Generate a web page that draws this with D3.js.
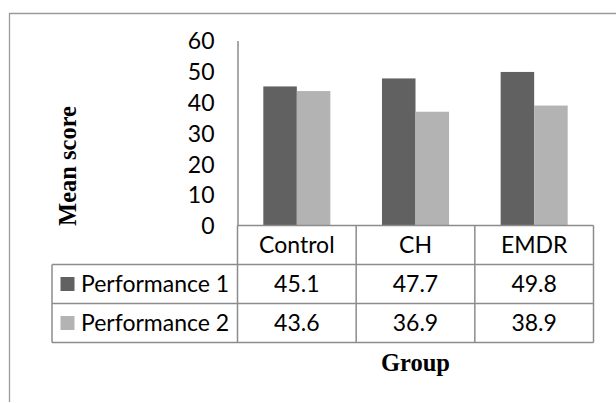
<!DOCTYPE html>
<html>
<head>
<meta charset="utf-8">
<script src="https://cdn.jsdelivr.net/npm/d3@7"></script>
<style>
  html, body { margin: 0; padding: 0; background: #ffffff; }
  svg { display: block; }
</style>
</head>
<body>
<svg id="chart" width="616" height="403"></svg>
<script>
// Mean scores by group for two performance measures
const groups = ["Control", "CH", "EMDR"];
const seriesNames = ["Performance 1", "Performance 2"];
const performance1 = [45.1, 47.7, 49.8];
const performance2 = [43.6, 36.9, 38.9];
const yTicks = [0, 10, 20, 30, 40, 50, 60];
const yTitle = "Mean score";
const xTitle = "Group";

const seriesValues = [performance1, performance2];
const colors = ["#616161", "#b3b3b3"];

const sansFont = "Lato, 'Open Sans', sans-serif";
const serifFont = "'Liberation Serif', 'Times New Roman', serif";

const svg = d3.select("#chart");

// Frame (top and left edges only)
svg.append("path")
  .attr("d", "M9.5,402 V13.5 H616")
  .attr("fill", "none")
  .attr("stroke", "#9a9a9a")
  .attr("stroke-width", 1.3);

// Scales
const plotLeft = 237.5, plotRight = 593.5;
const plotTop = 40.5, plotBottom = 225.5;

const x = d3.scaleBand().domain(groups).range([plotLeft, plotRight]).padding(0);
const xInner = d3.scaleBand().domain(d3.range(seriesNames.length))
  .range([0, x.bandwidth()]).paddingInner(0).paddingOuter(0.77);
const y = d3.scaleLinear().domain([0, 60]).range([plotBottom, plotTop]);

// Bars
const barData = [];
groups.forEach((g, gi) => {
  seriesValues.forEach((vals, si) => {
    barData.push({ group: g, s: si, v: vals[gi] });
  });
});

svg.append("g").selectAll("rect")
  .data(barData)
  .join("rect")
  .attr("x", d => x(d.group) + xInner(d.s))
  .attr("y", d => y(d.v))
  .attr("width", xInner.bandwidth())
  .attr("height", d => y(0) - y(d.v))
  .attr("fill", d => colors[d.s]);

// Y axis
const yAxis = d3.axisLeft(y).tickValues(yTicks).tickSize(0).tickPadding(23)
  .tickFormat(d3.format("d"));
const yg = svg.append("g").attr("transform", `translate(${plotLeft},0)`).call(yAxis);
yg.select(".domain").attr("stroke", "#8c8c8c").attr("stroke-width", 1.5);
yg.selectAll("text")
  .attr("font-family", sansFont)
  .attr("font-size", 23)
  .attr("fill", "#000")
  .attr("dy", "0.36em");

// Data table beneath the plot
const tableLeft = 52;
const rowH = 39;
const headerTop = plotBottom;
const tableBottom = headerTop + rowH * (1 + seriesNames.length);
const lineColor = "#8c8c8c";
const tbl = svg.append("g");

// horizontal lines
tbl.append("line")
  .attr("x1", plotLeft).attr("x2", plotRight)
  .attr("y1", headerTop).attr("y2", headerTop);
for (let r = 1; r <= seriesNames.length + 1; r++) {
  const yy = headerTop + r * rowH;
  tbl.append("line")
    .attr("x1", tableLeft).attr("x2", plotRight)
    .attr("y1", yy).attr("y2", yy);
}
// vertical lines
tbl.append("line")
  .attr("x1", tableLeft).attr("x2", tableLeft)
  .attr("y1", headerTop + rowH).attr("y2", tableBottom);
groups.forEach(g => {
  tbl.append("line")
    .attr("x1", x(g)).attr("x2", x(g))
    .attr("y1", headerTop).attr("y2", tableBottom);
});
tbl.append("line")
  .attr("x1", plotRight).attr("x2", plotRight)
  .attr("y1", headerTop).attr("y2", tableBottom);
tbl.selectAll("line").attr("stroke", lineColor).attr("stroke-width", 1.5);

// header labels
tbl.selectAll("text.head")
  .data(groups)
  .join("text")
  .attr("class", "head")
  .attr("x", d => x(d) + x.bandwidth() / 2)
  .attr("y", headerTop + rowH / 2)
  .attr("dy", "0.36em")
  .attr("text-anchor", "middle")
  .attr("font-family", sansFont)
  .attr("font-size", 23)
  .text(d => d);

// series rows
seriesNames.forEach((name, si) => {
  const cy = headerTop + rowH * (si + 1) + rowH / 2;
  tbl.append("rect")
    .attr("x", 60.5).attr("y", cy - 7)
    .attr("width", 14).attr("height", 14)
    .attr("fill", colors[si]);
  tbl.append("text")
    .attr("x", 81)
    .attr("y", cy)
    .attr("dy", "0.36em")
    .attr("font-family", sansFont)
    .attr("font-size", 23)
    .text(name);
  groups.forEach((g, gi) => {
    tbl.append("text")
      .attr("x", x(g) + x.bandwidth() / 2)
      .attr("y", cy)
      .attr("dy", "0.36em")
      .attr("text-anchor", "middle")
      .attr("font-family", sansFont)
      .attr("font-size", 23)
      .text(seriesValues[si][gi].toFixed(1));
  });
});

// Axis titles
svg.append("text")
  .attr("transform", `translate(76,166) rotate(-90)`)
  .attr("text-anchor", "middle")
  .attr("font-family", serifFont)
  .attr("font-weight", "bold")
  .attr("font-size", 24.5)
  .text(yTitle);

svg.append("text")
  .attr("x", (plotLeft + plotRight) / 2)
  .attr("y", 371)
  .attr("text-anchor", "middle")
  .attr("font-family", serifFont)
  .attr("font-weight", "bold")
  .attr("font-size", 24.5)
  .text(xTitle);
</script>
</body>
</html>
